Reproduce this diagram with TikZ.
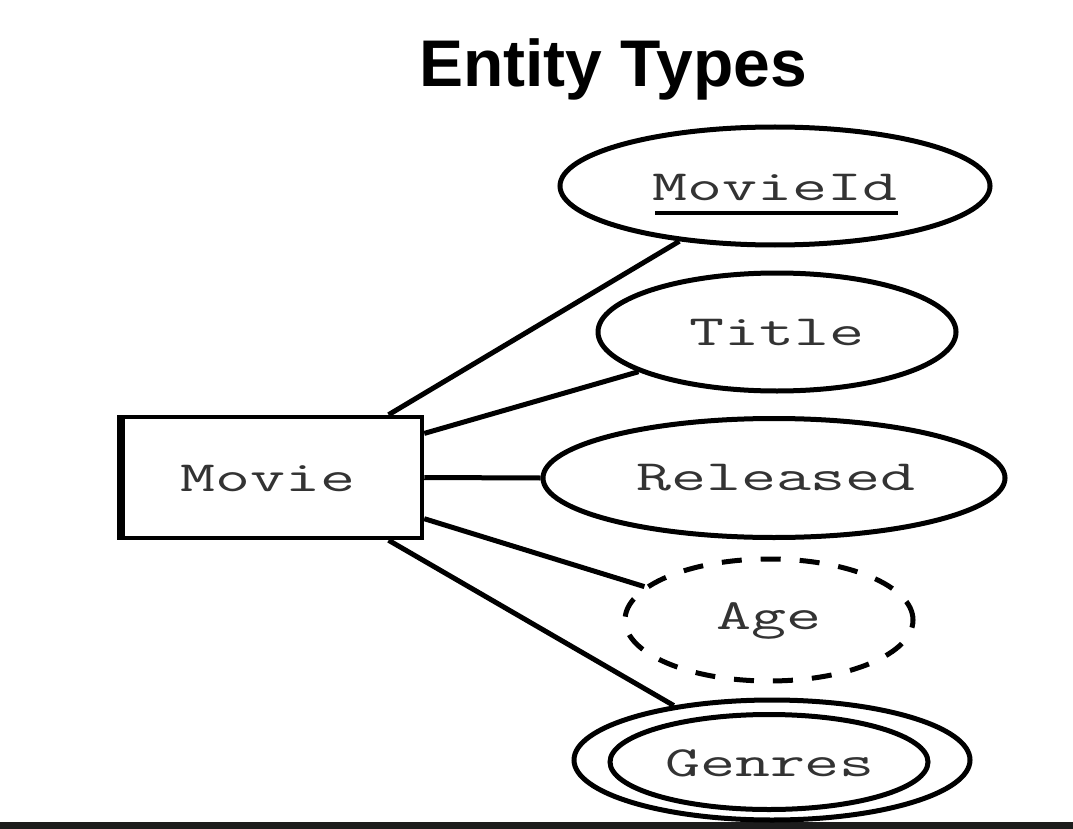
\documentclass[tikz,border=0pt]{standalone}
\usepackage{fontspec}
\usepackage{graphicx}
\usetikzlibrary{shapes.geometric,calc}
\newfontfamily\titlefnt{Liberation Sans}
\definecolor{txtgray}{HTML}{333333}
\definecolor{barcol}{HTML}{1C1C1C}
\tikzset{
  attr/.style={ellipse, draw=black, line width=5pt, inner sep=0pt},
  ent/.style={rectangle, draw=black, line width=4.5pt, inner sep=0pt},
  lbl/.style={text=txtgray, inner sep=0pt, font=\ttfamily\fontsize{43}{43}\selectfont},
  conn/.style={line width=5pt, black},
}
\newcommand{\wide}[1]{\scalebox{1.58}[1]{#1}}
\begin{document}
\begin{tikzpicture}[x=1pt,y=-1pt]
\useasboundingbox[fill=white] (0,0) rectangle (1073,829);
\fill[barcol] (0,822) rectangle (1073,829);

\node[font=\titlefnt\bfseries\fontsize{66}{66}\selectfont, inner sep=0pt, anchor=base] (title) at (613,87) {Entity Types};

% entity
\node[ent, minimum width=303pt, minimum height=121pt] (movie) at (270.5,477.5) {};
\fill[black] (117,415) rectangle (125,540);
\node[lbl] (movielbl) at (268,478) {\wide{Movie}};

% attributes
\node[attr, minimum width=430pt, minimum height=118pt] (movieid) at (775,186) {};
\node[lbl] (movieidlbl) at (775,187) {\wide{MovieId}};
\draw[line width=4pt] (655,213) -- (898,213);

\node[attr, minimum width=358pt, minimum height=118pt] (title2) at (777,332) {};
\node[lbl] (titlelbl) at (777,332) {\wide{Title}};

\node[attr, minimum width=462pt, minimum height=119pt] (released) at (774,478) {};
\node[lbl] (releasedlbl) at (776,478) {\wide{Released}};

\node[attr, dash pattern=on 20pt off 19pt, minimum width=288pt, minimum height=122pt] (age) at (769,620) {};
\node[lbl] (agelbl) at (769,621) {\wide{Age}};

\node[attr, minimum width=396pt, minimum height=120pt] (genres) at (772,760) {};
\node[attr, minimum width=318pt, minimum height=95pt] (genresin) at (769,762) {};
\node[lbl] (genreslbl) at (770,763) {\wide{Genres}};

% connectors
\draw[conn] (movie.28.5) -- (movieid.210.5);
\draw[conn] (movie.16.7) -- (title2.196.6);
\draw[conn] (movie.east) -- (released.west);
\draw[conn] (movie.-15.7) -- (age.165.1);
\draw[conn] (movie.-28.3) -- (genres.151.6);
\end{tikzpicture}
\end{document}
